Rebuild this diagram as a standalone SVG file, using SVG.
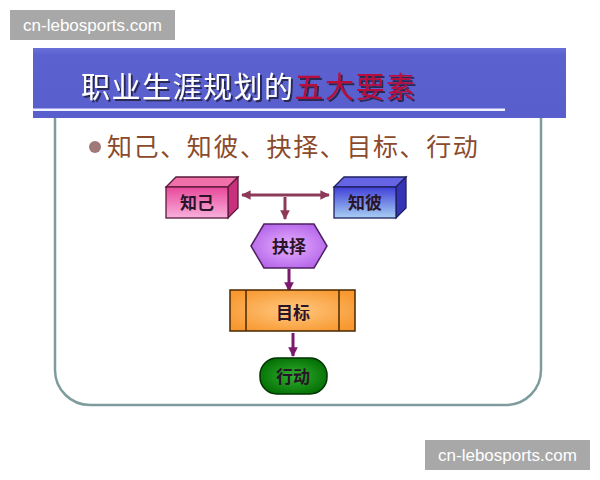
<svg xmlns="http://www.w3.org/2000/svg" width="600" height="480" viewBox="0 0 600 480">
<defs>
<style>
.wm{fill:#a8a8a8}
.wmt{fill:#ffffff;font-family:"Liberation Sans",Arial,sans-serif;font-size:17px}
.cjk{font-family:"Noto Sans CJK SC","Noto Sans CJK TC",sans-serif}
.lbl{font-size:17px;fill:#2a1428;font-weight:bold;text-anchor:middle}
.con{fill:none;stroke-width:3}
</style>
<filter id="shadow" x="-5%" y="-20%" width="110%" height="140%"><feDropShadow dx="2" dy="2" stdDeviation="0.6" flood-color="#1a1a40" flood-opacity="0.85"/></filter>
<linearGradient id="banner" x1="0" y1="0" x2="0" y2="1"><stop offset="0" stop-color="#6a70d8"/><stop offset="0.1" stop-color="#5b62d0"/><stop offset="1" stop-color="#585ecc"/></linearGradient>
<linearGradient id="pinkF" x1="0" y1="0" x2="0" y2="1"><stop offset="0" stop-color="#e8489a"/><stop offset="1" stop-color="#f8b0dc"/></linearGradient>
<linearGradient id="blueF" x1="0" y1="0" x2="0" y2="1"><stop offset="0" stop-color="#4040d8"/><stop offset="1" stop-color="#a8d0f4"/></linearGradient>
<radialGradient id="purp" cx="0.5" cy="0.5" r="0.6"><stop offset="0" stop-color="#e8b0ff"/><stop offset="1" stop-color="#b060e8"/></radialGradient>
<radialGradient id="orng" cx="0.5" cy="0.5" r="0.6"><stop offset="0" stop-color="#ffc880"/><stop offset="1" stop-color="#f89830"/></radialGradient>
<radialGradient id="grn" cx="0.5" cy="0.5" r="0.6"><stop offset="0" stop-color="#30b030"/><stop offset="1" stop-color="#006a00"/></radialGradient>
<marker id="ah1" viewBox="0 0 10 10" refX="9" refY="5" markerWidth="3.2" markerHeight="3.2" orient="auto-start-reverse"><path d="M0,0 L10,5 L0,10 z" fill="#8b3a58"/></marker>
<marker id="ah2" viewBox="0 0 10 10" refX="9" refY="5" markerWidth="3.2" markerHeight="3.2" orient="auto"><path d="M0,0 L10,5 L0,10 z" fill="#7a1a6e"/></marker>
</defs>
<rect width="600" height="480" fill="#ffffff"/>

<g id="panel">
<path d="M55,112 V370 A35,35 0 0 0 90,405 H506 A35,35 0 0 0 541,370 V112" fill="#ffffff" stroke="#7f9c9c" stroke-width="2.5"/>
</g>

<g id="banner-g">
<rect x="33" y="48" width="533" height="70" fill="url(#banner)"/>
<rect x="33" y="108.5" width="472" height="2.5" fill="#eef0ff"/>
<text x="81" y="98" class="cjk" font-size="29" fill="#ffffff" letter-spacing="1.5" filter="url(#shadow)">职业生涯规划的<tspan fill="#b8103c">五大要素</tspan></text>
</g>

<g id="bullet">
<circle cx="95" cy="147" r="6" fill="#a07878"/>
<text x="107" y="156" class="cjk" font-size="25" fill="#8a4a2c" letter-spacing="1.6">知己、知彼、抉择、目标、行动</text>
</g>

<g id="connectors">
<line x1="242" y1="195" x2="329" y2="195" class="con" stroke="#8b3a58" marker-start="url(#ah1)" marker-end="url(#ah1)"/>
<line x1="285" y1="197" x2="285" y2="219" class="con" stroke="#8b3a58" marker-end="url(#ah1)"/>
<line x1="289" y1="269" x2="289" y2="291" class="con" stroke="#7a1a6e" marker-end="url(#ah2)"/>
<line x1="293" y1="333" x2="293" y2="356" class="con" stroke="#7a1a6e" marker-end="url(#ah2)"/>
</g>

<g id="node-zhiji">
<polygon points="166,187 176,177 238,177 228,187" fill="#f070aa" stroke="#5a1a3a" stroke-width="1.3"/>
<polygon points="228,187 238,177 238,208 228,218" fill="#c8307e" stroke="#5a1a3a" stroke-width="1.3"/>
<rect x="166" y="187" width="62" height="31" fill="url(#pinkF)" stroke="#5a1a3a" stroke-width="1.3"/>
<text x="197" y="209" class="cjk lbl">知己</text>
</g>

<g id="node-zhibi">
<polygon points="334,187 344,177 406,177 396,187" fill="#6464e4" stroke="#202060" stroke-width="1.3"/>
<polygon points="396,187 406,177 406,208 396,218" fill="#3434b4" stroke="#202060" stroke-width="1.3"/>
<rect x="334" y="187" width="62" height="31" fill="url(#blueF)" stroke="#202060" stroke-width="1.3"/>
<text x="365" y="209" class="cjk lbl">知彼</text>
</g>

<g id="node-jueze">
<polygon points="251,246 264,224 314,224 327,246 314,268 264,268" fill="url(#purp)" stroke="#502060" stroke-width="1.5"/>
<text x="289" y="253" class="cjk lbl" font-size="19">抉择</text>
</g>

<g id="node-mubiao">
<rect x="230" y="290" width="125" height="41" fill="url(#orng)" stroke="#4a2800" stroke-width="1.5"/>
<line x1="246" y1="290" x2="246" y2="331" stroke="#4a2800" stroke-width="1.5"/>
<line x1="339" y1="290" x2="339" y2="331" stroke="#4a2800" stroke-width="1.5"/>
<text x="293" y="319" class="cjk lbl">目标</text>
</g>

<g id="node-xingdong">
<rect x="260" y="358" width="67" height="36" rx="17" ry="17" fill="url(#grn)" stroke="#003300" stroke-width="1.5"/>
<text x="293" y="383" class="cjk lbl" fill="#103a10">行动</text>
</g>

<g id="watermarks">
<rect x="10" y="10" width="165" height="30" class="wm"/>
<text x="92.5" y="31" class="wmt" text-anchor="middle">cn-lebosports.com</text>
<rect x="425" y="440" width="165" height="30" class="wm"/>
<text x="507.5" y="461" class="wmt" text-anchor="middle">cn-lebosports.com</text>
</g>
</svg>
